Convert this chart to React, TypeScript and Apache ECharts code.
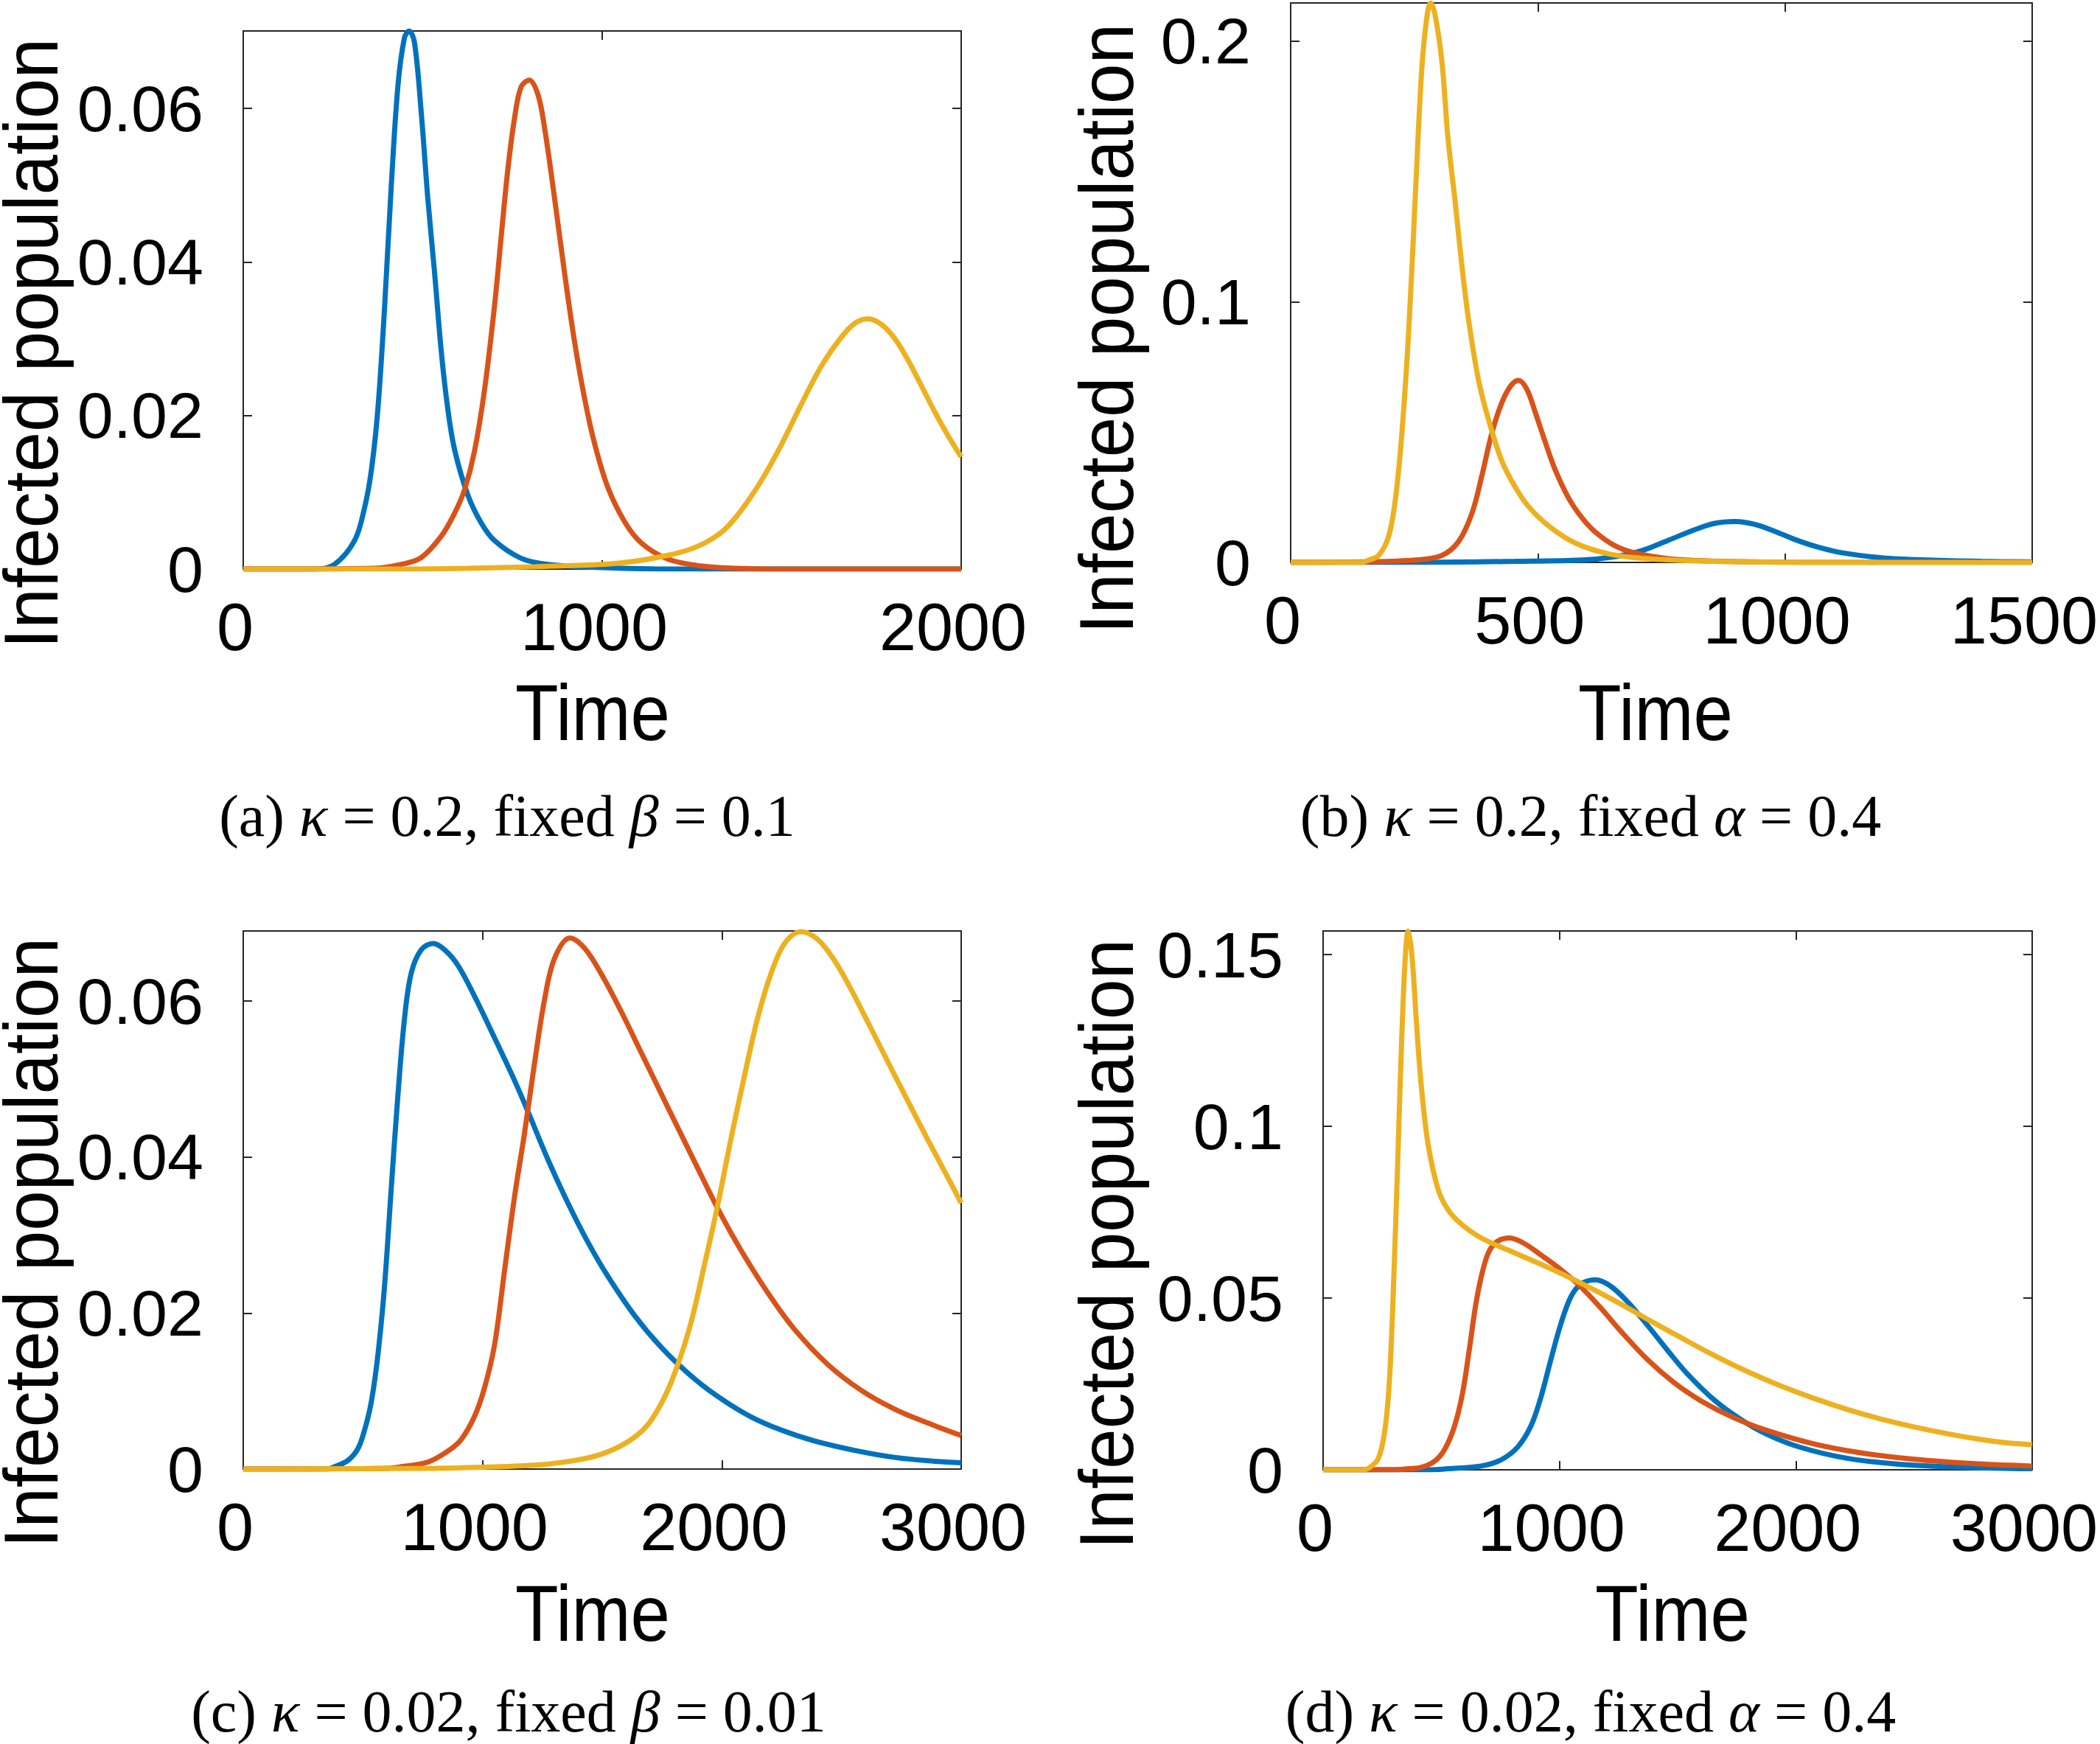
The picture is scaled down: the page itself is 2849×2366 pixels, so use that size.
import React, { useEffect, useRef } from "react";
import * as echarts from "echarts";

// ---------- data (time, infected fraction) ----------
const aBlue = [[0,0],[200,0],[254,0.0006],[310,0.0037],[338,0.008],[357,0.0129],[375,0.0208],[394,0.0343],[412,0.0496],[431,0.063],[449,0.0692],[462,0.0701],[477,0.0686],[496,0.0594],[514,0.0484],[533,0.0386],[552,0.0282],[570,0.0208],[589,0.0155],[626,0.0096],[663,0.006],[700,0.0037],[774,0.0014],[849,0.0006],[1000,0.0002],[1200,0],[2000,0]];
const aOrange = [[0,0],[366,0.0001],[440,0.0006],[496,0.0015],[552,0.0043],[589,0.0073],[617,0.0104],[644,0.0153],[672,0.0233],[700,0.0343],[719,0.0435],[737,0.052],[756,0.0588],[774,0.0628],[797,0.0637],[821,0.0618],[839,0.0576],[867,0.0484],[895,0.0386],[923,0.0296],[951,0.0222],[979,0.0163],[1016,0.0106],[1062,0.0062],[1109,0.0034],[1183,0.0013],[1276,0.0004],[1369,0.0001],[1500,0],[2000,0]];
const aYellow = [[0,0],[400,0],[626,0.0001],[812,0.0003],[997,0.0006],[1090,0.001],[1183,0.0018],[1240,0.0025],[1290,0.0035],[1340,0.0051],[1388,0.0077],[1443,0.0115],[1499,0.0162],[1555,0.0215],[1610,0.0264],[1666,0.0302],[1703,0.032],[1740,0.0326],[1777,0.0319],[1814,0.0301],[1851,0.0273],[1889,0.0239],[1926,0.0205],[1963,0.0174],[2000,0.0146]];

const bBlue = [[0,0],[300,0.0001],[454,0.0004],[589,0.0009],[656,0.0022],[710,0.0045],[764,0.0085],[818,0.0126],[858,0.015],[899,0.0157],[939,0.0146],[980,0.0119],[1020,0.0088],[1061,0.0062],[1115,0.0037],[1195,0.0018],[1290,0.0009],[1398,0.0004],[1500,0.0002]];
const bOrange = [[0,0],[150,0.0002],[252,0.0009],[306,0.0027],[340,0.0081],[367,0.019],[387,0.0334],[407,0.0496],[427,0.0612],[445,0.0677],[461,0.0699],[478,0.0664],[495,0.0575],[515,0.0462],[535,0.0356],[562,0.0248],[589,0.0172],[616,0.0117],[656,0.0064],[697,0.0036],[764,0.0014],[858,0.0005],[993,0.0001],[1100,0],[1500,0]];
const bYellow = [[0,0],[144,0],[158,0.0009],[178,0.0027],[198,0.0099],[212,0.0244],[225,0.0496],[239,0.0894],[252,0.14],[265,0.1886],[275,0.2085],[283,0.2147],[292,0.2103],[306,0.1922],[318,0.1634],[333,0.138],[346,0.1146],[360,0.093],[380,0.07],[400,0.055],[427,0.039],[454,0.029],[481,0.0215],[522,0.014],[575,0.0075],[643,0.0033],[724,0.0014],[858,0.0004],[993,0.0001],[1100,0],[1500,0]];

const cBlue = [[0,0],[350,0],[382,0.0003],[437,0.0011],[479,0.0026],[507,0.005],[535,0.0086],[563,0.0147],[591,0.0237],[618,0.0358],[646,0.0478],[674,0.0578],[702,0.0636],[744,0.0666],[794,0.0674],[841,0.0666],[897,0.0646],[967,0.0606],[1050,0.0553],[1134,0.0498],[1189,0.0459],[1273,0.0397],[1357,0.0341],[1440,0.0291],[1524,0.0247],[1635,0.0197],[1747,0.0156],[1858,0.0123],[1969,0.0096],[2109,0.0069],[2248,0.005],[2387,0.0036],[2554,0.0024],[2721,0.0015],[2889,0.001],[3000,0.0008]];
const cOrange = [[0,0],[600,0.0001],[660,0.0003],[772,0.0009],[855,0.0023],[911,0.0038],[967,0.0068],[1008,0.0104],[1050,0.0159],[1092,0.0255],[1134,0.035],[1175,0.043],[1217,0.052],[1259,0.0602],[1301,0.0655],[1365,0.0681],[1426,0.0668],[1496,0.0635],[1579,0.0587],[1663,0.0534],[1774,0.0464],[1886,0.0394],[1983,0.0334],[2081,0.028],[2192,0.0226],[2304,0.0179],[2443,0.0134],[2582,0.0101],[2721,0.0077],[2861,0.0059],[3000,0.0043]];
const cYellow = [[0,0],[800,0.0001],[939,0.0002],[1217,0.0005],[1384,0.0011],[1496,0.0019],[1607,0.0035],[1691,0.0057],[1760,0.0092],[1816,0.0134],[1872,0.0189],[1928,0.0263],[1983,0.0339],[2039,0.0425],[2095,0.0505],[2150,0.0579],[2206,0.0636],[2262,0.0674],[2331,0.0689],[2401,0.0679],[2471,0.0652],[2540,0.0615],[2610,0.0573],[2694,0.0522],[2777,0.0472],[2861,0.0422],[2944,0.0374],[3000,0.0341]];

const dBlue = [[0,0],[450,0],[528,0.0003],[669,0.0011],[753,0.0029],[823,0.0066],[879,0.0127],[921,0.021],[963,0.0319],[1006,0.0425],[1048,0.0503],[1090,0.054],[1152,0.0553],[1216,0.0535],[1287,0.049],[1371,0.0422],[1455,0.035],[1539,0.0281],[1652,0.0205],[1764,0.0148],[1876,0.0104],[2017,0.0066],[2213,0.0034],[2438,0.0016],[2719,0.0007],[3000,0.0003]];
const dOrange = [[0,0],[300,0],[360,0.0003],[416,0.0007],[472,0.0025],[514,0.0059],[556,0.0127],[590,0.0223],[618,0.0347],[646,0.0481],[674,0.0576],[702,0.0636],[739,0.0666],[789,0.0675],[851,0.0659],[921,0.0626],[1006,0.0583],[1090,0.0533],[1174,0.0472],[1258,0.0405],[1371,0.0322],[1483,0.0255],[1596,0.0202],[1736,0.0152],[1876,0.0115],[2073,0.0076],[2270,0.005],[2494,0.0031],[2775,0.0017],[3000,0.0011]];
const dYellow = [[0,0],[163,0],[191,0.0004],[233,0.0032],[261,0.0114],[281,0.0264],[298,0.0538],[315,0.0881],[331,0.1223],[346,0.147],[360,0.1569],[376,0.1497],[396,0.1292],[416,0.1114],[444,0.0949],[486,0.0818],[528,0.0758],[584,0.0716],[669,0.0675],[809,0.0632],[949,0.059],[1090,0.0544],[1230,0.0494],[1371,0.0439],[1511,0.0386],[1652,0.0334],[1792,0.0287],[1933,0.0245],[2073,0.0209],[2213,0.0177],[2354,0.0149],[2494,0.0126],[2635,0.0106],[2775,0.0089],[2888,0.0079],[3000,0.0073]];

// axis ranges
const xMaxes = [2000, 1500, 3000, 3000];
const xIntervals = [1000, 500, 1000, 1000];
const yMaxes = [0.0701, 0.2147, 0.069, 0.1569];
const yIntervals = [0.02, 0.1, 0.02, 0.05];

const panelSeries = [
  [aBlue, aOrange, aYellow],
  [bBlue, bOrange, bYellow],
  [cBlue, cOrange, cYellow],
  [dBlue, dOrange, dYellow],
];
const seriesColors = ["#0072BD", "#D95319", "#EDB120"];

const yTitle = "Infected population";
const xTitle = "Time";
const captionLetters = ["(a)", "(b)", "(c)", "(d)"];
const captionKappa = ["0.2", "0.2", "0.02", "0.02"];
const captionSymbol = ["β", "α", "β", "α"];
const captionFixed = ["0.1", "0.4", "0.01", "0.4"];

// ---------- layout ----------
const grids = [
  { left: 330, top: 42, width: 974, height: 730 },
  { left: 1751, top: 4, width: 1014, height: 759 },
  { left: 330, top: 1263, width: 974, height: 730 },
  { left: 1795, top: 1263, width: 974, height: 731 },
];
const yTitlePos = [
  [42, 466],
  [1501, 446],
  [42, 1686],
  [1501, 1688],
];
const xTitlePos = [
  [804, 966],
  [2246, 966],
  [804, 2188],
  [2269, 2188],
];
const captionPos = [
  [688, 1107],
  [2158, 1107],
  [690, 2322],
  [2158, 2322],
];

const AX = "#262626";
const SANS = "'Liberation Sans', Arial, Helvetica, sans-serif";
const SERIF = "'Liberation Serif', 'Times New Roman', serif";

function fmt(v: number) {
  return String(parseFloat(v.toFixed(5)));
}

export default function App() {
  const ref = useRef<HTMLDivElement>(null);
  useEffect(() => {
    if (!ref.current) return;
    const chart = echarts.init(ref.current, null, { renderer: "svg" });
    const xAxis: any[] = [];
    const yAxis: any[] = [];
    const series: any[] = [];
    const graphic: any[] = [];
    const lineCommon = { show: true, onZero: false, lineStyle: { color: AX, width: 2 } };
    const tickCommon = { show: true, inside: true, length: 12, lineStyle: { color: AX, width: 2 } };
    grids.forEach((g, i) => {
      const base = {
        gridIndex: i,
        type: "value",
        min: 0,
        splitLine: { show: false },
        axisLine: lineCommon,
        axisTick: tickCommon,
      };
      xAxis.push({
        ...base,
        max: xMaxes[i],
        interval: xIntervals[i],
        position: "bottom",
        axisLabel: {
          color: "#000",
          fontSize: 90,
          fontFamily: SANS,
          margin: 34,
          padding: [0, 22, 0, 0],
          formatter: fmt,
        },
      });
      xAxis.push({ ...base, max: xMaxes[i], interval: xIntervals[i], position: "top", axisLabel: { show: false } });
      yAxis.push({
        ...base,
        max: yMaxes[i],
        interval: yIntervals[i],
        position: "left",
        axisLabel: { color: "#000", fontSize: 88, fontFamily: SANS, margin: 54, showMaxLabel: false, formatter: fmt },
      });
      yAxis.push({ ...base, max: yMaxes[i], interval: yIntervals[i], position: "right", axisLabel: { show: false } });
      panelSeries[i].forEach((data, k) => {
        series.push({
          type: "line",
          xAxisIndex: 2 * i,
          yAxisIndex: 2 * i,
          data,
          showSymbol: false,
          symbol: "none",
          smooth: 0.35,
          color: seriesColors[k],
          lineStyle: { color: seriesColors[k], width: 7 },
          z: 2 + k,
        });
      });
      graphic.push({
        type: "text",
        x: yTitlePos[i][0],
        y: yTitlePos[i][1],
        rotation: Math.PI / 2,
        scaleX: 1,
        scaleY: 1.06,
        style: {
          text: yTitle,
          fill: "#000",
          fontSize: 98,
          lineHeight: 70,
          fontFamily: SANS,
          textAlign: "center",
          align: "center",
          textVerticalAlign: "middle",
          verticalAlign: "middle",
        },
      });
      graphic.push({
        type: "text",
        x: xTitlePos[i][0],
        y: xTitlePos[i][1],
        scaleX: 1,
        scaleY: 1.13,
        style: {
          text: xTitle,
          fill: "#000",
          fontSize: 96,
          fontFamily: SANS,
          textAlign: "center",
          align: "center",
          textVerticalAlign: "middle",
          verticalAlign: "middle",
        },
      });
      graphic.push({
        type: "text",
        x: captionPos[i][0],
        y: captionPos[i][1],
        style: {
          text: `{n|${captionLetters[i]} }{i|κ}{n| = ${captionKappa[i]}, fixed }{i|${captionSymbol[i]}}{n| = ${captionFixed[i]}}`,
          fill: "#000",
          fontSize: 80,
          fontFamily: SERIF,
          lineHeight: 76,
          textAlign: "center",
          align: "center",
          textVerticalAlign: "middle",
          verticalAlign: "middle",
          rich: {
            n: { fontSize: 80, lineHeight: 76, fontFamily: SERIF, fill: "#000", color: "#000" },
            i: { fontSize: 80, lineHeight: 76, fontFamily: SERIF, fontStyle: "italic", fill: "#000", color: "#000" },
          },
        },
      });
    });
    chart.setOption({
      animation: false,
      backgroundColor: "#fff",
      grid: grids.map((g) => ({ ...g, containLabel: false })),
      xAxis,
      yAxis,
      series,
      graphic,
    });
    return () => chart.dispose();
  }, []);
  return (
    <div
      ref={ref}
      style={{ position: "fixed", left: 0, top: 0, width: "2849px", height: "2366px" }}
    />
  );
}
